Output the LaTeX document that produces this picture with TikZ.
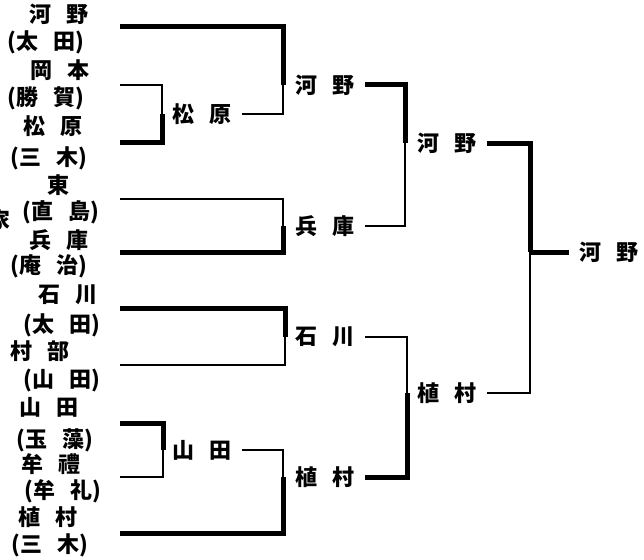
\documentclass[tikz,border=0pt]{standalone}
\usepackage{fontspec}
\newfontfamily\cjk{Noto Sans CJK JP}
\newcommand\jgap{\hspace{0.72em}}
\tikzset{
  lbl/.style={inner sep=0pt, outer sep=0pt, font=\cjk\bfseries\fontsize{22}{22}\selectfont},
  win/.style={lbl, outer sep=10pt},
  thk/.style={line width=5pt, line join=miter},
  thn/.style={line width=2.2pt, line join=miter}
}
\begin{document}
\begin{tikzpicture}[x=1pt,y=-1pt]
\useasboundingbox (0,0) rectangle (644,559);
% left column: entrants and their schools
\node[lbl] (n1) at (59,14) {河\jgap{}野};
\node[lbl] (n2) at (46,42) {(太\jgap{}田)};
\node[lbl] (n3) at (60,70) {岡\jgap{}本};
\node[lbl] (n4) at (46,98) {(勝\jgap{}賀)};
\node[lbl] (n5) at (53,126) {松\jgap{}原};
\node[lbl] (n6) at (49,158) {(三\jgap{}木)};
\node[lbl] (n7) at (58,185) {東};
\node[lbl] (n8) at (61,212) {(直\jgap{}島)};
\node[lbl] (n9) at (59,240) {兵\jgap{}庫};
\node[lbl] (nx) at (0,220) {家};
\node[lbl] (n10) at (49,266) {(庵\jgap{}治)};
\node[lbl] (n11) at (68,295) {石\jgap{}川};
\node[lbl] (n12) at (62,325) {(太\jgap{}田)};
\node[lbl] (n13) at (40,351) {村\jgap{}部};
\node[lbl] (n14) at (62,380) {(山\jgap{}田)};
\node[lbl] (n15) at (49,407) {山\jgap{}田};
\node[lbl] (n16) at (55,440) {(玉\jgap{}藻)};
\node[lbl] (n17) at (51,464) {牟\jgap{}禮};
\node[lbl] (n18) at (63,491) {(牟\jgap{}礼)};
\node[lbl] (n19) at (48,517) {植\jgap{}村};
\node[lbl] (n20) at (50,545) {(三\jgap{}木)};
% entrant line starts
\coordinate (e1) at (120,27);
\coordinate (e2) at (120,85);
\coordinate (e3) at (120,142);
\coordinate (e4) at (120,199);
\coordinate (e5) at (120,252);
\coordinate (e6) at (120,308);
\coordinate (e7) at (120,365);
\coordinate (e8) at (120,423);
\coordinate (e9) at (120,477);
\coordinate (e10) at (120,533);
% joints
\coordinate (jA) at (162,114);
\coordinate (jB) at (283,85);
\coordinate (jC) at (283,226);
\coordinate (jD) at (405,143);
\coordinate (jE) at (285,337);
\coordinate (jF) at (163,450);
\coordinate (jG) at (283,477);
\coordinate (jH) at (407,393);
\coordinate (jI) at (530,252);
% winners
\node[win] (wA) at (202,114) {松\jgap{}原};
\node[win] (wB) at (325,85) {河\jgap{}野};
\node[win] (wC) at (325,226) {兵\jgap{}庫};
\node[win] (wD) at (447,143) {河\jgap{}野};
\node[win] (wE) at (325,337) {石\jgap{}川};
\node[win] (wF) at (202,450) {山\jgap{}田};
\node[win] (wG) at (325,477) {植\jgap{}村};
\node[win] (wH) at (447,393) {植\jgap{}村};
\node[win] (wI) at (609,252) {河\jgap{}野};
% match A
\draw[thn] (e2) -| (jA);
\draw[thk] (e3) -| (jA);
% match B
\draw[thk] (e1) -| (jB);
\draw[thn] (wA.east) -| (jB);
% match C
\draw[thn] (e4) -| (jC);
\draw[thk] (e5) -| (jC);
% match D
\draw[thk] (wB.east) -| (jD);
\draw[thn] (wC.east) -| (jD);
% match E
\draw[thk] (e6) -| (jE);
\draw[thn] (e7) -| (jE);
% match F
\draw[thk] (e8) -| (jF);
\draw[thn] (e9) -| (jF);
% match G
\draw[thn] (wF.east) -| (jG);
\draw[thk] (e10) -| (jG);
% match H
\draw[thn] (wE.east) -| (jH);
\draw[thk] (wG.east) -| (jH);
% final
\draw[thk] (wD.east) -| (jI);
\draw[thn] (wH.east) -| (jI);
\draw[thk] (jI) -- (wI.west);
\end{tikzpicture}
\end{document}
